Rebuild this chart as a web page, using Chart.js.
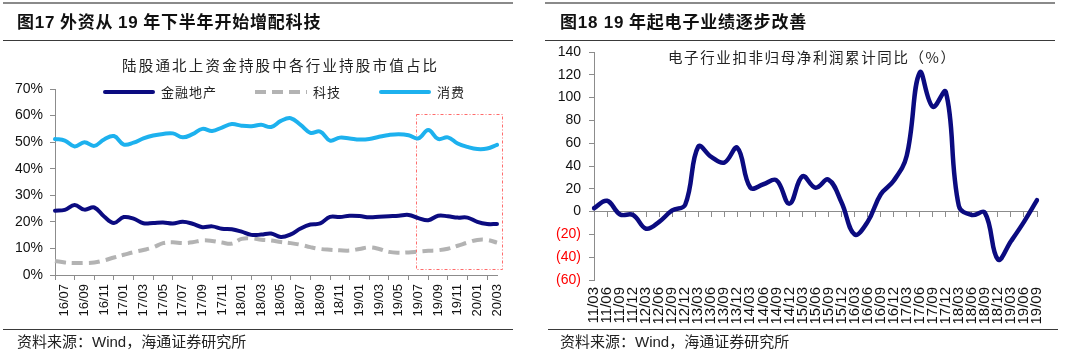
<!DOCTYPE html>
<html>
<head>
<meta charset="utf-8">
<script src="https://cdn.jsdelivr.net/npm/chart.js@4.4.1/dist/chart.umd.min.js"></script>
<style>
  body { margin: 0; width: 1080px; height: 353px; background: #fff; position: relative; overflow: hidden;
         font-family: "Noto Sans CJK SC", sans-serif; color: #222; }
  .panel { position: absolute; top: 0; width: 540px; height: 353px; }
  .panel canvas { position: absolute; left: 0; top: 0; }
  .hdr { position: absolute; top: 2px; width: 510px; height: 36px; border-top: 2px solid #8a8a8a; border-bottom: 1.5px solid #3a3a3a; }
  .hdr span { position: absolute; top: 0; line-height: 34px; font-size: 17px; font-weight: bold; letter-spacing: 0.8px; color: #111; white-space: nowrap; }
  .hdr b { font-family: "Liberation Sans", Arial, sans-serif; }
  .sub { position: absolute; font-size: 14.5px; letter-spacing: 2.2px; line-height: 20px; color: #222; white-space: nowrap; }
  .legend { position: absolute; left: 103px; top: 82px; display: flex; gap: 38px; font-size: 13px; letter-spacing: 1px; line-height: 20px; }
  .legend .item { display: flex; align-items: center; gap: 6px; }
  .legend .swatch { width: 52px; height: 4px; }
  .src { position: absolute; top: 329px; width: 510px; border-top: 1.5px solid #3a3a3a; }
  .src span { position: absolute; top: 0; line-height: 22px; font-size: 15px; color: #222; white-space: nowrap; }
  .src i { font-style: normal; font-family: "Liberation Sans", Arial, sans-serif; }
</style>
</head>
<body>
<div class="panel" style="left:0">
  <canvas id="holdingChart" width="540" height="353"></canvas>
  <div class="hdr" style="left:3px"><span style="left:14px">图<b>17</b> 外资从 <b>19</b> 年下半年开始增配科技</span></div>
  <div class="sub" style="left:122px; top:55px">陆股通北上资金持股中各行业持股市值占比</div>
  <div class="legend" id="holdingLegend"></div>
  <div class="src" style="left:3px"><span style="left:14px">资料来源：<i>Wind</i>，海通证券研究所</span></div>
</div>
<div class="panel" style="left:540px">
  <canvas id="profitChart" width="540" height="353"></canvas>
  <div class="hdr" style="left:5px"><span style="left:15px">图<b>18 19</b> 年起电子业绩逐步改善</span></div>
  <div class="sub" style="left:128px; top:47px; letter-spacing:1.6px">电子行业扣非归母净利润累计同比（%）</div>
  <div class="src" style="left:8px"><span style="left:12px">资料来源：<i>Wind</i>，海通证券研究所</span></div>
</div>
<script>
// left chart: monthly share of northbound holdings by sector (%)
const months = [
  "16/07", "16/08", "16/09", "16/10", "16/11", "16/12", "17/01", "17/02", "17/03", "17/04", "17/05", "17/06",
  "17/07", "17/08", "17/09", "17/10", "17/11", "17/12", "18/01", "18/02", "18/03", "18/04", "18/05", "18/06",
  "18/07", "18/08", "18/09", "18/10", "18/11", "18/12", "19/01", "19/02", "19/03", "19/04", "19/05", "19/06",
  "19/07", "19/08", "19/09", "19/10", "19/11", "19/12", "20/01", "20/02", "20/03", "20/04"
];
const financeShare = [
  24.2, 24.5, 26.3, 24.6, 25.4, 22.0, 19.6, 21.8, 21.2, 19.5, 19.6, 19.8,
  19.4, 20.0, 19.3, 18.0, 18.3, 17.4, 17.2, 16.3, 15.1, 15.2, 15.6, 14.3,
  15.3, 17.5, 19.0, 19.4, 21.9, 21.8, 22.3, 22.2, 21.7, 21.9, 22.1, 22.3,
  22.6, 21.4, 20.6, 22.3, 22.1, 21.6, 21.6, 20.0, 19.2, 19.2
];
const techShare = [
  5.3, 4.7, 4.5, 4.5, 4.7, 5.5, 6.6, 7.6, 8.6, 9.4, 10.4, 12.0,
  12.3, 12.0, 12.3, 13.0, 12.8, 12.2, 11.8, 13.6, 13.8, 13.3, 13.0, 12.4,
  12.0, 11.4, 10.5, 9.8, 9.5, 9.3, 9.2, 9.8, 10.4, 9.8, 8.7, 8.4,
  8.5, 8.8, 9.1, 9.3, 9.9, 11.0, 12.2, 13.2, 13.2, 12.2
];
const consumerShare = [
  51.2, 50.6, 48.4, 50.0, 48.6, 51.0, 52.3, 49.1, 49.8, 51.4, 52.5, 53.1,
  53.3, 51.8, 53.0, 55.0, 54.2, 55.5, 56.8, 56.2, 56.0, 56.5, 55.7, 58.0,
  59.0, 56.5, 53.5, 54.0, 50.6, 51.7, 51.4, 51.0, 51.2, 52.0, 52.7, 53.0,
  52.6, 51.4, 54.6, 51.2, 51.8, 49.5, 48.2, 47.4, 47.6, 49.0
];
const holdingSeries = ["金融地产", "科技", "消费"];
// highlighted window (category index / percent)
const focusRange = { from: 36.8, to: 45.6, top: 60.5, bottom: 2 };

// right chart: electronics sector cumulative YoY of net profit (%)
const quarters = [
  "11/03", "11/06", "11/09", "11/12", "12/03", "12/06", "12/09", "12/12", "13/03", "13/06", "13/09", "13/12",
  "14/03", "14/06", "14/09", "14/12", "15/03", "15/06", "15/09", "15/12", "16/03", "16/06", "16/09", "16/12",
  "17/03", "17/06", "17/09", "17/12", "18/03", "18/06", "18/09", "18/12", "19/03", "19/06", "19/09"
];
const profitYoY = [
  3, 9.5, -2.5, -3, -15, -9, 1, 6, 57, 48, 43, 56,
  21, 24, 27.5, 7, 31, 21, 28, 8, -20, -9, 15, 27,
  49, 122, 92, 105, 5, -3, -1, -42, -26, -9, 10
];

const numFont = "'Liberation Sans', Arial, sans-serif";
const axisGray = "#8c8c8c";
const navy = "#0b0b80";

const focusBox = {
  id: "focusBox",
  beforeDatasetsDraw(chart) {
    const { ctx, scales: { x, y } } = chart;
    const l = x.getPixelForValue(focusRange.from);
    const r = x.getPixelForValue(focusRange.to);
    const t = y.getPixelForValue(focusRange.top);
    const b = y.getPixelForValue(focusRange.bottom);
    ctx.save();
    ctx.strokeStyle = "#ff6b6b";
    ctx.lineWidth = 1;
    ctx.setLineDash([3, 2, 1, 2]);
    ctx.strokeRect(Math.round(l) + 0.5, Math.round(t) + 0.5, Math.round(r - l), Math.round(b - t));
    ctx.restore();
  },
};

const holdingDatasets = [
  { label: holdingSeries[0], data: financeShare, borderColor: navy, borderWidth: 4 },
  { label: holdingSeries[1], data: techShare, borderColor: "#b3b3b3", borderWidth: 4, borderDash: [11, 6], borderCapStyle: "butt" },
  { label: holdingSeries[2], data: consumerShare, borderColor: "#1db1ee", borderWidth: 4 },
].map((d) => ({ pointRadius: 0, tension: 0.4, borderCapStyle: "round", borderJoinStyle: "round", fill: false, ...d }));

new Chart(document.getElementById("holdingChart"), {
  type: "line",
  data: { labels: months, datasets: holdingDatasets },
  options: {
    responsive: false,
    animation: false,
    layout: { padding: { top: 89, right: 43, bottom: 28, left: 0 } },
    plugins: { legend: { display: false }, tooltip: { enabled: false } },
    scales: {
      x: {
        offset: false,
        grid: { drawOnChartArea: false, tickLength: 5, tickColor: (c) => (c.index % 2 === 0 ? axisGray : "rgba(0,0,0,0)") },
        border: { color: axisGray },
        ticks: {
          autoSkip: false, minRotation: 90, maxRotation: 90, padding: 4, color: "#111",
          font: { family: numFont, size: 13 },
          callback: (v, i) => (i % 2 === 1 ? months[i - 1] : ""),
        },
        afterFit: (s) => { s.height = 50; },
      },
      y: {
        min: 0, max: 70,
        grid: { drawOnChartArea: false, tickLength: 5, color: axisGray },
        border: { color: axisGray },
        ticks: { stepSize: 10, padding: 7, color: "#111", font: { family: numFont, size: 14 }, callback: (v) => v + "%" },
        afterFit: (s) => { s.width = 55; },
      },
    },
  },
  plugins: [focusBox],
});

// html legend from the datasets
const legendEl = document.getElementById("holdingLegend");
holdingDatasets.forEach((d) => {
  const item = document.createElement("div");
  item.className = "item";
  const sw = document.createElement("span");
  sw.className = "swatch";
  sw.style.background = d.borderDash
    ? `repeating-linear-gradient(to right, ${d.borderColor} 0 11px, transparent 11px 17px)`
    : d.borderColor;
  sw.style.borderRadius = d.borderDash ? "0" : "2px";
  const txt = document.createElement("span");
  txt.textContent = d.label;
  item.append(sw, txt);
  legendEl.append(item);
});

new Chart(document.getElementById("profitChart"), {
  type: "line",
  data: {
    labels: quarters,
    datasets: [{
      data: profitYoY, xAxisID: "x", borderColor: navy, borderWidth: 4.5, pointRadius: 0,
      tension: 0.4, borderCapStyle: "round", borderJoinStyle: "round", fill: false,
    }],
  },
  options: {
    responsive: false,
    animation: false,
    layout: { padding: { top: 52, right: 43, bottom: 28, left: 0 } },
    plugins: { legend: { display: false }, tooltip: { enabled: false } },
    scales: {
      x: {
        offset: false,
        grid: { display: false, drawTicks: false },
        border: { display: false },
        ticks: { autoSkip: false, minRotation: 90, maxRotation: 90, padding: 7, color: "#111", font: { family: numFont, size: 15 } },
        afterFit: (s) => { s.height = 45; },
      },
      xZero: {
        type: "category", axis: "x", position: { y: 0 }, offset: false,
        grid: { drawOnChartArea: false, tickLength: 5, color: axisGray },
        border: { color: axisGray },
        ticks: { display: false, autoSkip: false },
      },
      y: {
        min: -60, max: 140,
        grid: { drawOnChartArea: false, tickLength: 5, color: axisGray },
        border: { color: axisGray },
        ticks: {
          stepSize: 20, padding: 8, font: { family: numFont, size: 14 },
          color: (c) => (c.tick.value < 0 ? "#ff0000" : "#111"),
          callback: (v) => (v < 0 ? "(" + -v + ")" : v),
        },
        afterFit: (s) => { s.width = 54; },
      },
    },
  },
});
</script>
</body>
</html>
